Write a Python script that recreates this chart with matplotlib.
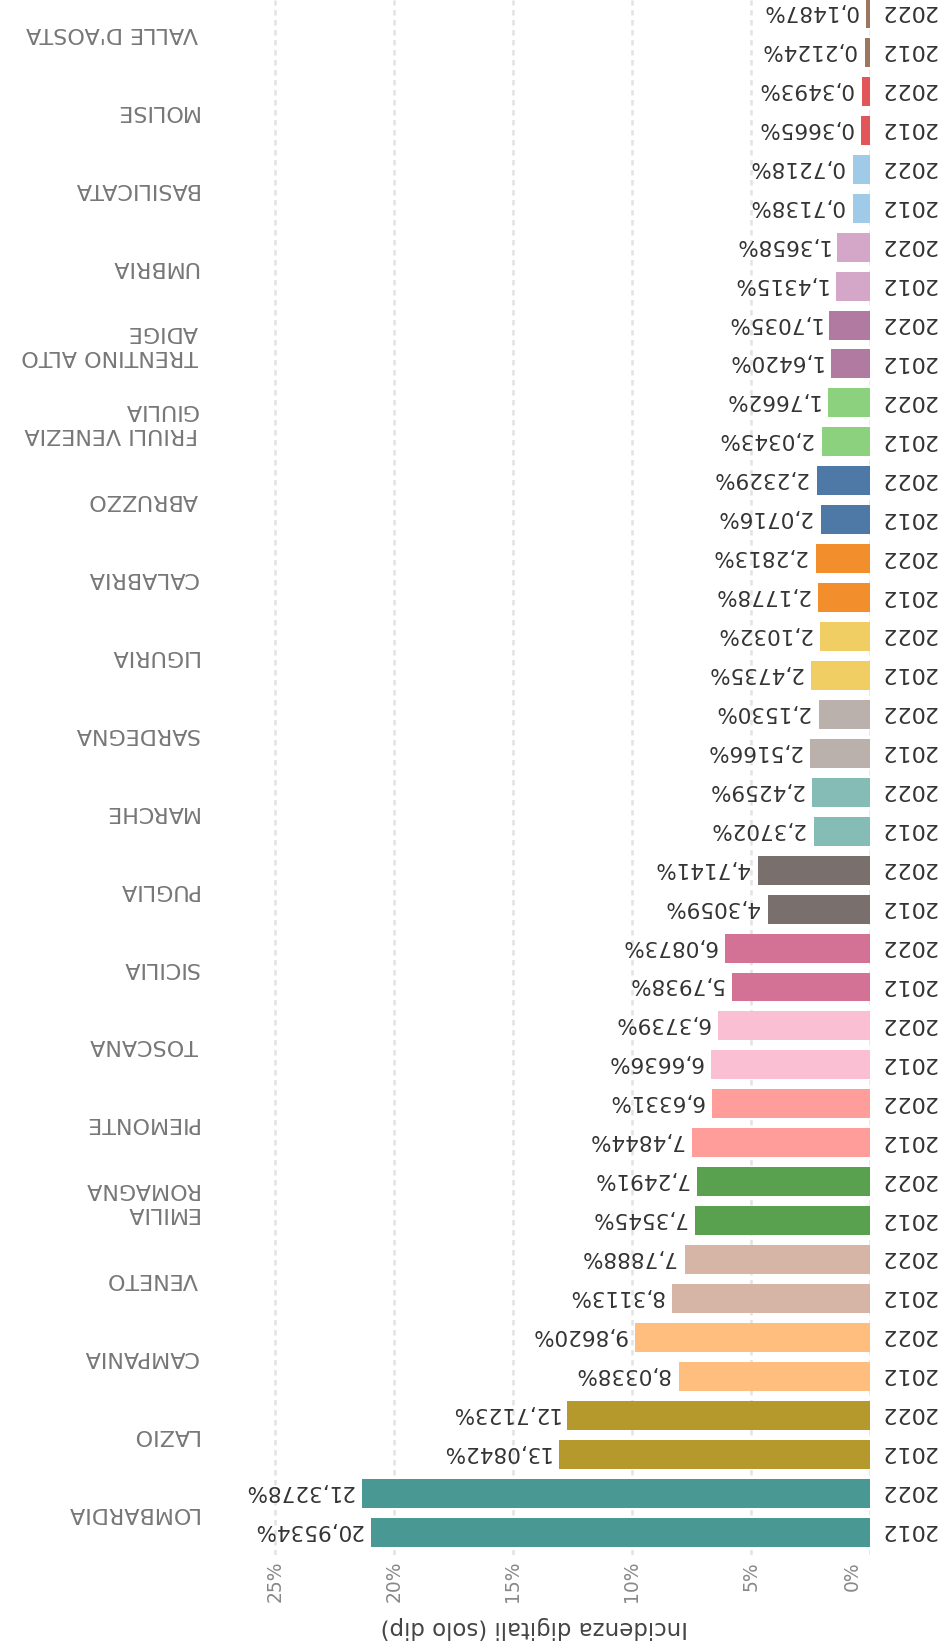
import matplotlib
matplotlib.use("Agg")
import matplotlib.pyplot as plt
from matplotlib.transforms import blended_transform_factory, ScaledTranslation

# ---------------- data (display order, top to bottom) ----------------
regions = ["VALLE D'AOSTA", "MOLISE", "BASILICATA", "UMBRIA",
           "TRENTINO ALTO\nADIGE", "FRIULI VENEZIA\nGIULIA", "ABRUZZO",
           "CALABRIA", "LIGURIA", "SARDEGNA", "MARCHE", "PUGLIA", "SICILIA",
           "TOSCANA", "PIEMONTE", "EMILIA\nROMAGNA", "VENETO", "CAMPANIA",
           "LAZIO", "LOMBARDIA"]
years = ["2022", "2012"]  # order within each region, top to bottom
values_2012 = [0.2124, 0.3665, 0.7138, 1.4315, 1.6420, 2.0343, 2.0716,
               2.1778, 2.4735, 2.5166, 2.3702, 4.3059, 5.7938, 6.6636,
               7.4844, 7.3545, 8.3113, 8.0338, 13.0842, 20.9534]
values_2022 = [0.1487, 0.3493, 0.7218, 1.3658, 1.7035, 1.7662, 2.2329,
               2.2813, 2.1032, 2.1530, 2.4259, 4.7141, 6.0873, 6.3739,
               6.6331, 7.2491, 7.7888, 9.8620, 12.7123, 21.3278]
region_colors = ["#9D7660", "#E15759", "#A0CBE8", "#D4A6C8", "#B07AA1",
                 "#8CD17D", "#4E79A7", "#F28E2B", "#F1CE63", "#BAB0AC",
                 "#86BCB6", "#79706E", "#D37295", "#FABFD2", "#FF9D9A",
                 "#59A14F", "#D7B5A6", "#FFBE7D", "#B6992D", "#499894"]
tick_values = [0, 5, 10, 15, 20, 25]
axis_title = "Incidenza digitali (solo dip)"

# ---------------- figure ----------------
W, H = 942, 1650
fig = plt.figure(figsize=(W / 100, H / 100), dpi=100)
ax_left, ax_right, ax_top, ax_bottom = 215, 870, 0, 1555
ax = fig.add_axes([ax_left / W, 1 - ax_bottom / H,
                   (ax_right - ax_left) / W, (ax_bottom - ax_top) / H])

pitch = 38.94
first_center = 13.5
ax.set_ylim((ax_bottom - first_center) / pitch, (ax_top - first_center) / pitch)
ax.set_xlim(27.52, 0)

rows, vals, cols, yrs = [], [], [], []
for k, reg in enumerate(regions):
    for j, yr in enumerate(years):
        rows.append(2 * k + j)
        vals.append(values_2022[k] if yr == "2022" else values_2012[k])
        cols.append(region_colors[k])
        yrs.append(yr)

ax.barh(rows, vals, height=29 / pitch, color=cols, zorder=3)

# grid
ax.set_xticks(tick_values)
ax.set_yticks([])
ax.xaxis.grid(True, linestyle=(0, (2.2, 1.8)), color="#e3e3e3", lw=1.8, zorder=0)
ax.tick_params(length=0, labelbottom=False, labelleft=False)
for s in ax.spines.values():
    s.set_visible(False)

# value labels
for r, v in zip(rows, vals):
    txt = f"{v:.4f}".replace(".", ",") + "%"
    ax.annotate(txt, xy=(v, r), xytext=(-6.5, 1.8), textcoords="offset points",
                ha="right", va="center", rotation=180, fontsize=15.5,
                color="#333333", zorder=4)

# year labels
tr_year = blended_transform_factory(fig.transFigure, ax.transData)
for r, yr in zip(rows, yrs):
    ax.annotate(yr, xy=(880 / W, r), xycoords=tr_year, xytext=(0, 1.5),
                textcoords="offset points", ha="left", va="center",
                rotation=180, fontsize=16, color="#333333")

# region labels
for k, reg in enumerate(regions):
    ax.text(198 / W, 2 * k + 0.5, reg, transform=tr_year, ha="right",
            va="center", rotation=180, multialignment="left",
            linespacing=1.25, fontsize=16, color="#777777")

# tick labels
tr_tick = blended_transform_factory(ax.transData, fig.transFigure)
for t in tick_values:
    trans = tr_tick
    if t == 0:
        trans = tr_tick + ScaledTranslation(-0.18, 0, fig.dpi_scale_trans)
    ax.text(t, 1 - 1561 / H, f"{t}%", transform=trans, ha="center", va="top",
            rotation=90, fontsize=13.5, color="#888888")

# axis title
fig.text(534 / W, 1 - 1628 / H, axis_title, ha="center", va="center",
         rotation=180, fontsize=16.5, color="#444444")

fig.savefig("out.png", dpi=100)
